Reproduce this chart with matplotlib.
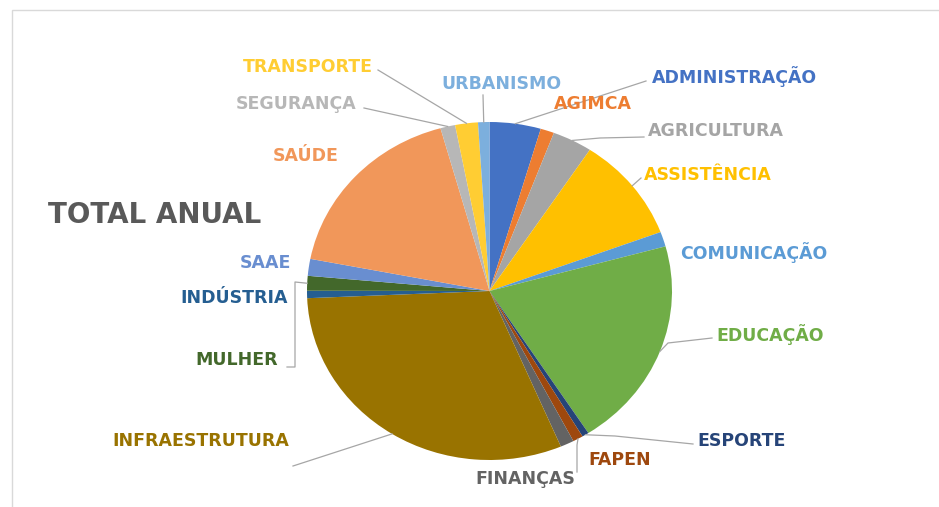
import numpy as np
import matplotlib
matplotlib.use('Agg')
import matplotlib.pyplot as plt
from matplotlib.patches import Rectangle

plt.rcParams['font.family'] = ['DejaVu Sans']

# share of the annual total by department (%), clockwise from 12 o'clock
departments = ['ADMINISTRAÇÃO', 'AGIMCA', 'AGRICULTURA', 'ASSISTÊNCIA', 'COMUNICAÇÃO',
               'EDUCAÇÃO', 'ESPORTE', 'FAPEN', 'FINANÇAS', 'INFRAESTRUTURA',
               'INDÚSTRIA', 'MULHER', 'SAAE', 'SAÚDE', 'SEGURANÇA', 'TRANSPORTE', 'URBANISMO']
shares = [4.5, 1.2, 3.5, 10.0, 1.4,
          20.0, 0.6, 0.9, 1.2, 30.5,
          0.7, 1.4, 1.6, 17.5, 1.3, 2.0, 1.0]
colors = ['#4472C4', '#ED7D31', '#A5A5A5', '#FFC000', '#5B9BD5',
          '#70AD47', '#264478', '#9E480E', '#636363', '#997300',
          '#255E91', '#43682B', '#698ED0', '#F1975A', '#B7B7B7', '#FFCD33', '#7CAFDD']
title = 'TOTAL ANUAL'

W, H = 939, 507
fig = plt.figure(figsize=(W / 100, H / 100), dpi=100)

# chart area border
fig.patches.append(Rectangle((12 / W, -0.1), 1.1, 1 - 10 / H + 0.1, transform=fig.transFigure,
                             fill=False, edgecolor='#D9D9D9', linewidth=1.0))

# pie (slightly wider than tall, like the source)
cx, cy, rx, ry = 489.5, 291, 182.5, 169
ax = fig.add_axes([(cx - rx) / W, 1 - (cy + ry) / H, 2 * rx / W, 2 * ry / H])
ax.pie(shares, colors=colors, startangle=90, counterclock=False,
       wedgeprops=dict(linewidth=0))
ax.set_aspect('auto')
ax.set_xlim(-1, 1)
ax.set_ylim(-1, 1)
ax.axis('off')

# overlay in pixel coords for labels and leader lines
ov = fig.add_axes([0, 0, 1, 1], facecolor='none')
ov.set_xlim(0, W)
ov.set_ylim(H, 0)
ov.axis('off')

total = sum(shares)
mid = {}
acc = 0
for d, s in zip(departments, shares):
    a = np.deg2rad((acc + s / 2) / total * 360)
    mid[d] = (cx + rx * np.sin(a), cy - ry * np.cos(a))
    acc += s

label_pos = {
    'ADMINISTRAÇÃO': (652, 77), 'AGIMCA': (554, 104), 'AGRICULTURA': (648, 131),
    'ASSISTÊNCIA': (644, 175), 'COMUNICAÇÃO': (680, 253), 'EDUCAÇÃO': (716, 335),
    'ESPORTE': (697, 441), 'FAPEN': (588, 460), 'FINANÇAS': (475, 479),
    'INFRAESTRUTURA': (112, 441), 'INDÚSTRIA': (180, 298), 'MULHER': (195, 360),
    'SAAE': (240, 263), 'SAÚDE': (273, 156), 'SEGURANÇA': (236, 104),
    'TRANSPORTE': (243, 67), 'URBANISMO': (441, 84),
}
leaders = {
    'ADMINISTRAÇÃO': [(646, 81)], 'AGRICULTURA': [(644, 137), (600, 138)],
    'ASSISTÊNCIA': [(641, 178)], 'EDUCAÇÃO': [(712, 338), (668, 343)],
    'ESPORTE': [(693, 444), (615, 436)], 'FAPEN': [(577, 472), (577, 445)],
    'INFRAESTRUTURA': [(293, 466)], 'MULHER': [(287, 367), (295, 367), (295, 282)],
    'SEGURANÇA': [(364, 108)], 'TRANSPORTE': [(378, 70)], 'URBANISMO': [(483, 95)],
}

for d, c in zip(departments, colors):
    x, y = label_pos[d]
    ov.text(x, y, d, color=c, fontsize=12.5, fontweight='bold', ha='left', va='center')
    if d in leaders:
        pts = leaders[d] + [mid[d]]
        ov.plot([p[0] for p in pts], [p[1] for p in pts], color='#A6A6A6', lw=0.9)

ov.text(48, 215, title, color='#595959', fontsize=20, fontweight='bold',
        ha='left', va='center')

fig.savefig('out.png', dpi=100)
